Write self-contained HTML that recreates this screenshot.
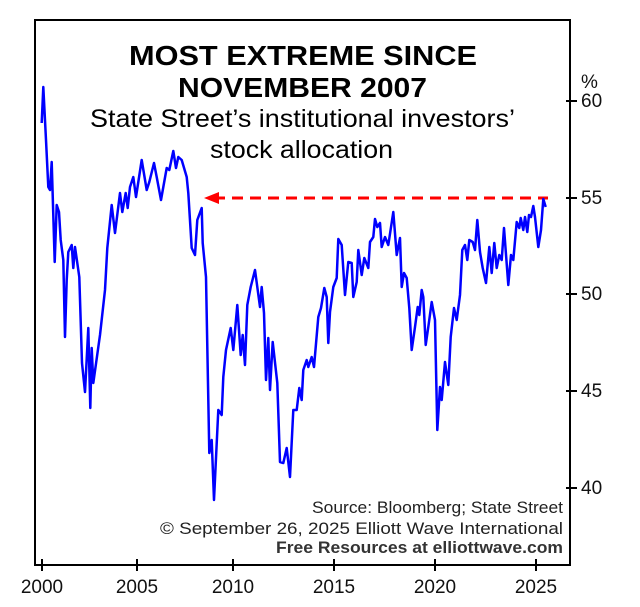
<!DOCTYPE html>
<html><head><meta charset="utf-8"><style>
html,body{margin:0;padding:0;background:#fff}
svg{display:block}
text{font-family:"Liberation Sans",sans-serif}
</style></head><body>
<svg width="640" height="607" viewBox="0 0 640 607" xmlns="http://www.w3.org/2000/svg">
<rect x="0" y="0" width="640" height="607" fill="#fff"/>
<rect x="35" y="20" width="535" height="545" fill="none" stroke="#000" stroke-width="2"/>
<g stroke="#000" stroke-width="2">
<line x1="42" y1="559" x2="42" y2="571"/>
<line x1="137" y1="559" x2="137" y2="571"/>
<line x1="233" y1="559" x2="233" y2="571"/>
<line x1="334" y1="559" x2="334" y2="571"/>
<line x1="435" y1="559" x2="435" y2="571"/>
<line x1="536" y1="559" x2="536" y2="571"/>
<line x1="566" y1="101" x2="577" y2="101"/>
<line x1="566" y1="198" x2="577" y2="198"/>
<line x1="566" y1="294" x2="577" y2="294"/>
<line x1="566" y1="391" x2="577" y2="391"/>
<line x1="566" y1="488" x2="577" y2="488"/>
</g>
<g font-size="19" fill="#111" text-anchor="middle">
<text x="42" y="593">2000</text>
<text x="137" y="593">2005</text>
<text x="233" y="593">2010</text>
<text x="334" y="593">2015</text>
<text x="435" y="593">2020</text>
<text x="536" y="593">2025</text>
</g>
<g font-size="19" fill="#111">
<text x="581" y="88">%</text>
<text x="581" y="107">60</text>
<text x="581" y="204">55</text>
<text x="581" y="300">50</text>
<text x="581" y="397">45</text>
<text x="581" y="494">40</text>
</g>
<g fill="#000">
<text x="129" y="65" font-size="28" font-weight="bold" textLength="348" lengthAdjust="spacingAndGlyphs">MOST EXTREME SINCE</text>
<text x="178" y="97" font-size="28" font-weight="bold" textLength="249" lengthAdjust="spacingAndGlyphs">NOVEMBER 2007</text>
<text x="90" y="127" font-size="25" textLength="425" lengthAdjust="spacingAndGlyphs">State Street’s institutional investors’</text>
<text x="210" y="158" font-size="25" textLength="183" lengthAdjust="spacingAndGlyphs">stock allocation</text>
</g>
<g font-size="17" fill="#222">
<text x="312" y="513" textLength="251" lengthAdjust="spacingAndGlyphs">Source: Bloomberg; State Street</text>
<text x="160" y="534" textLength="403" lengthAdjust="spacingAndGlyphs">© September 26, 2025 Elliott Wave International</text>
<text x="276" y="553" font-weight="bold" fill="#333" textLength="287" lengthAdjust="spacingAndGlyphs">Free Resources at elliottwave.com</text>
</g>
<line x1="214" y1="198" x2="548" y2="198" stroke="#f00" stroke-width="3" stroke-dasharray="11,7"/>
<polygon points="204,198 219,192 219,204" fill="#f00"/>
<polyline fill="none" stroke="#00f" stroke-width="2.5" stroke-linejoin="round" points="
41.7,123 43.3,87 46,140 48.3,187 50,190 51.7,162 54.7,262 56.7,205 59,212 60.7,240 63.3,260 65,337 66.7,280 68.3,252 71.7,245 73.3,268 75,247 79.3,277 82,363 85,392 88.3,328 90.3,408 91.7,348 93.3,383 100,335 105,290 107.3,248 111.7,205 115,233 120,193 122.3,212 125.7,193 127.7,208 130,187 133.3,177 136,197 141.7,160 146.7,190 149.3,182 154,163 156.7,177 161,200 166.7,168 169.3,170 173.3,151 176,168 178.3,157 181.7,160 186.7,177 188.3,193 191.7,248 195,255 197.3,220 201.7,208 202.7,243 206,277
209.3,453 211.7,440 214,500 218.3,410 221.7,415 223.3,377 226,350 230.7,328 233.3,350 237.3,305 240.7,355 242.7,335 245,365 247.3,305 250.7,287 255,270 260,307 261.7,287 264,313 266,380 268.3,338 270,390 272.7,342 277.3,383 280,462 283.3,463 286.7,448 290,477 293.3,410 296.7,410 299.3,388 301.7,400 303.3,370 306.7,360 308.3,367 311.7,357 314,367 318.3,317 321,308 324.3,288 326.7,297 328.3,343 330,312 333.3,287 336.7,278 338.3,239 341.7,245 345,295 348.3,262 351.7,263 353.3,297 356.7,282 358.3,250 361.7,275 364.3,258 368.3,268 370,242 373.3,237 375,219 377.3,227 380,223 381.7,247 385,237 388.3,245
393.3,212 396.7,255 400,238 401.7,287 404,273 406.7,278 409.3,308 411.7,350 415,327 417.7,307 419.3,315 421.7,290 423.3,297 425.7,345 428.3,327 431.7,302 435,320 437.3,430 440,387 441.7,400 445,362 448.3,385 450.7,337 454,308 456.7,320 460,295 462.3,250 465,245 467.3,260 469.3,240 472.7,242 475,250 477.3,220 480,252 482.7,268 486,283 489.3,247 491.7,273 494.3,243 496.7,268 499.3,255 501.7,260 504,228 508.3,285 511,255 513.3,260 516.7,222 519.3,228 520.7,218 523.3,230 525,217 527.3,232 529,215 531,217 533.3,206 535,217 538.3,247 541,230 543.3,199 545.7,207"/>
</svg>
</body></html>
